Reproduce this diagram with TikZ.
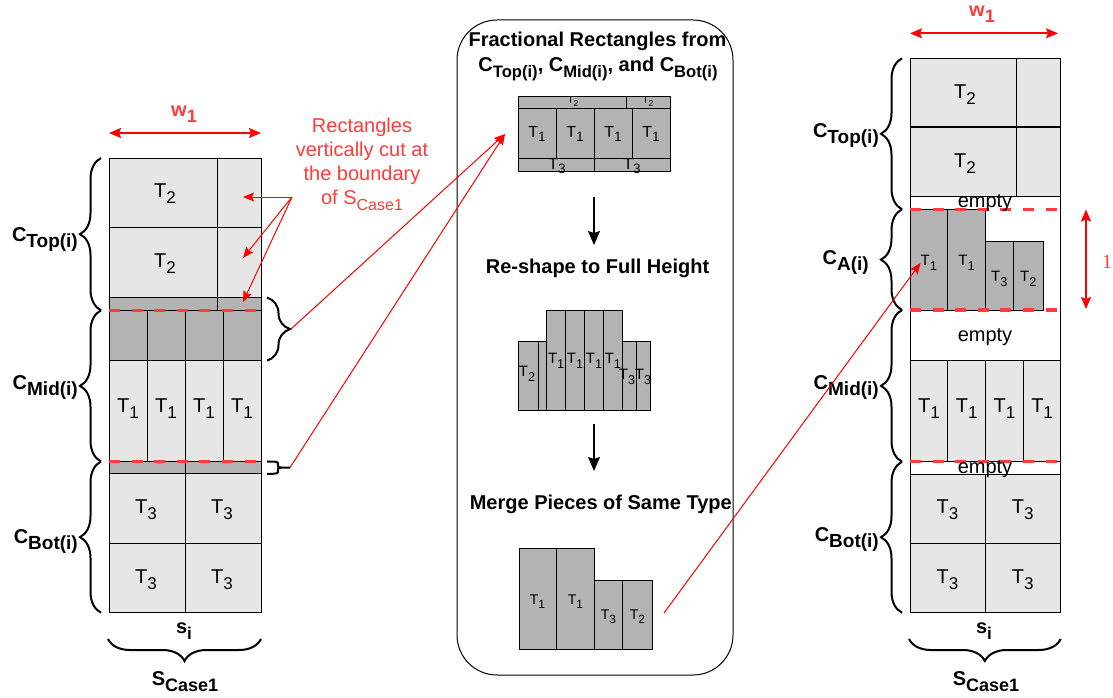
\documentclass[tikz,border=0pt]{standalone}
\usepackage{fontspec}
\setmainfont{Liberation Sans}
\newfontfamily\serifone{Liberation Serif}
\usepackage{tikz}
\usetikzlibrary{positioning}
\usetikzlibrary{arrows.meta,decorations.pathreplacing}
\definecolor{cutred}{HTML}{FF3B3B}
\definecolor{linered}{HTML}{FF0000}
\definecolor{cellgray}{HTML}{E6E6E6}
\definecolor{fracgray}{HTML}{B3B3B3}
\newcommand{\fsz}[1]{\fontsize{#1}{\fpeval{1.2*#1}}\selectfont}
\newcommand{\lowr}[2][0.85]{\raisebox{-0.3em}{\scalebox{#1}{#2}}}

\begin{document}
\begin{tikzpicture}[x=1pt,y=-1pt,
 every node/.style={inner sep=0pt,font=\fsz{20}},
 litecell/.style={draw=black,fill=cellgray,line width=0.9pt},
 darkcell/.style={draw=black,fill=fracgray,line width=0.9pt},
 cutline/.style={draw=cutred,line width=3.5pt,dash pattern=on 11pt off 11.6pt},
 brc/.style={decorate,decoration={brace,amplitude=#1},line width=2pt},
 redarr/.style={draw=linered,line width=1pt,-{Stealth[length=11pt,width=9pt,inset=2pt]}},
 dimarr/.style={draw=linered,line width=1.6pt,{Stealth[length=12pt,width=10pt,inset=2pt]}-{Stealth[length=12pt,width=10pt,inset=2pt]}},
 downarr/.style={draw=black,line width=1.5pt,-{Stealth[length=14pt,width=12pt,inset=2pt]}},
 clab/.style={font=\fsz{20}\bfseries,anchor=east},
 ttl/.style={font=\fsz{20}\bfseries},
 wlab/.style={font=\fsz{20}\bfseries,text=cutred}]
 \useasboundingbox (0,0) rectangle (1113,698);

 %left strip
 \foreach \y [count=\i] in {158,227.8}{
  \draw[litecell] (109,\y) rectangle (217,\y+69.7);
  \draw[litecell] (217,\y) rectangle (261,\y+69.7);
  \node (lt\i) at (165,\y+36) {T\lowr{2}};
 }
 \draw[darkcell] (109,297.5) rectangle (217,310.3);
 \draw[darkcell] (217,297.5) rectangle (261,310.3);
 \foreach \x [count=\i] in {109,147,185,223}{
  \draw[darkcell] (\x,310.3) rectangle +(38,50.4);
  \draw[litecell] (\x,360.7) rectangle +(38,100.8);
  \node (lm\i) at (\x+19,409) {T\lowr{1}};
 }
 \draw[darkcell] (109,461.5) rectangle (185,473.8);
 \draw[darkcell] (185,461.5) rectangle (261,473.8);
 \foreach \y [count=\j] in {473.8,543.3}
  \foreach \x [count=\i] in {109,185}{
   \draw[litecell] (\x,\y) rectangle +(76,69.4);
   \node (lb\j\i) at (\x+37,\y+36) {T\lowr{3}};
  }
 \draw[cutline] (109,310.3) -- (261,310.3);
 \draw[cutline] (109,461.5) -- (261,461.5);

 \draw[brc=21] (101,310.3) -- (101,158);
 \draw[brc=21] (101,461.5) -- (101,310.3);
 \draw[brc=21] (101,612.7) -- (101,461.5);
 \node[clab] (ctopl) at (78,239) {C\lowr[0.95]{Top(i)}};
 \node[clab] (cmidl) at (78,387) {C\lowr[0.95]{Mid(i)}};
 \node[clab] (cbotl) at (78,541) {C\lowr[0.95]{Bot(i)}};
 \draw[brc=23] (267,297.5) -- (267,360.7);
 \coordinate (tipa) at (291,329);
 \coordinate (tipb) at (290,467.6);
 \draw[line width=2pt] (267,461.5) .. controls (278,461.5) .. (278,465)
  .. controls (278,467.6) .. (tipb)
  (267,473.8) .. controls (278,473.8) .. (278,470.2)
  .. controls (278,467.6) .. (tipb);

 \node[font=\fsz{20}\bfseries] (sil) at (184,631) {s\lowr{i}};
 \draw[brc=22] (261,639) -- (108,639);
 \node[font=\fsz{20}\bfseries] (scasel) at (185,682) {S\lowr[0.9]{Case1}};

 \coordinate (wl1) at (109,133);
 \coordinate (wl2) at (261,133);
 \draw[dimarr] (wl1) -- (wl2);
 \node[wlab] (wlabl) at (184,114) {w\lowr[0.9]{1}};

 \node[text=cutred,align=center] (note) at (362,164) {Rectangles\\vertically cut at\\the boundary\\of S\lowr[0.8]{Case1}};
 \coordinate (notep) at (292,197);
 \coordinate (cut1) at (243,197);
 \coordinate (cut2) at (243,258);
 \coordinate (cut3) at (243,302);
 \foreach \c in {cut1,cut2,cut3}
  \draw[redarr] (notep) -- (\c);

 %middle panel
 \draw[line width=1pt,rounded corners=40pt] (457,20) rectangle (733,675);
 \node[ttl,anchor=base] (ttla) at (597.5,46.5) {Fractional Rectangles from};
 \node[ttl,anchor=base] (ttlb) at (598,72) {C\lowr[0.83]{Top(i)}, C\lowr[0.83]{Mid(i)}, and C\lowr[0.83]{Bot(i)}};

 \draw[darkcell] (518,96) rectangle (626,108.3);
 \draw[darkcell] (626,96) rectangle (670,108.3);
 \foreach \x [count=\i] in {518,556,594,632}{
  \draw[darkcell] (\x,108.3) rectangle +(38,50);
  \node[font=\fsz{16}] (fm\i) at (\x+19,134) {T\lowr{1}};
 }
 \draw[darkcell] (518,158.3) rectangle (594,171.7);
 \draw[darkcell] (594,158.3) rectangle (670,171.7);
 \node[font=\fsz{10}] (ft1) at (573,102) {T\lowr{2}};
 \node[font=\fsz{10}] (ft2) at (648,102) {T\lowr{2}};
 \node[font=\fsz{16}] (fb1) at (557,166) {T\lowr{3}};
 \node[font=\fsz{16}] (fb2) at (632,166) {T\lowr{3}};
 \coordinate (frac) at (505,134);
 \draw[redarr] (tipa) -- (frac);
 \draw[redarr] (tipb) -- (frac);

 \coordinate (da1) at (594,197);
 \coordinate (da2) at (594,245);
 \draw[downarr] (da1) -- (da2);
 \node[ttl] (reshape) at (597.5,268) {Re-shape to Full Height};

 \draw[darkcell] (518.3,341.7) rectangle (538.3,410.7);
 \draw[darkcell] (538.3,341.7) rectangle (546.7,410.7);
 \foreach \x [count=\i] in {546.7,565.6,584.5,603.4}{
  \draw[darkcell] (\x,310) rectangle +(18.9,100.7);
  \node[font=\fsz{15}] (rm\i) at (\x+9.5,361) {T\lowr{1}};
 }
 \draw[darkcell] (622.3,341.7) rectangle (636,410.7);
 \draw[darkcell] (636,341.7) rectangle (650,410.7);
 \node[font=\fsz{15}] (r2) at (527,374) {T\lowr{2}};
 \node[font=\fsz{15}] (r31) at (627,377) {T\lowr{3}};
 \node[font=\fsz{15}] (r32) at (643,377) {T\lowr{3}};

 \coordinate (db1) at (594,424);
 \coordinate (db2) at (594,471);
 \draw[downarr] (db1) -- (db2);
 \node[ttl] (merge) at (600.8,504) {Merge Pieces of Same Type};

 \draw[darkcell] (519,548.3) rectangle (556.7,649.3);
 \draw[darkcell] (556.7,548.3) rectangle (594.7,649.3);
 \draw[darkcell] (594.7,580) rectangle (622.3,649.3);
 \draw[darkcell] (622.3,580) rectangle (652.7,649.3);
 \node[font=\fsz{14}] (g1) at (537.5,602) {T\lowr{1}};
 \node[font=\fsz{14}] (g2) at (575.5,602) {T\lowr{1}};
 \node[font=\fsz{14}] (g3) at (608.5,617) {T\lowr{3}};
 \node[font=\fsz{14}] (g4) at (637.5,617) {T\lowr{2}};
 \coordinate (mergeout) at (664,613);

 %right strip
 \foreach \y [count=\i] in {58.3,127.7}{
  \draw[litecell] (910,\y) rectangle (1016.7,\y+68.3);
  \draw[litecell] (1016.7,\y) rectangle (1060.7,\y+68.3);
  \node (rt\i) at (965,\y+36) {T\lowr{2}};
 }
 \draw[darkcell] (910,209.3) rectangle (947.7,310);
 \draw[darkcell] (947.7,209.3) rectangle (985.3,310);
 \draw[darkcell] (985.3,241.7) rectangle (1013.3,310);
 \draw[darkcell] (1013.3,241.7) rectangle (1043.3,310);
 \node[font=\fsz{15}] (ra1) at (928.8,263) {T\lowr{1}};
 \node[font=\fsz{15}] (ra2) at (966.5,263) {T\lowr{1}};
 \node[font=\fsz{15}] (ra3) at (999.3,279) {T\lowr{3}};
 \node[font=\fsz{15}] (ra4) at (1028.3,279) {T\lowr{2}};
 \foreach \x [count=\i] in {910,947.7,985.4,1023.1}{
  \draw[litecell] (\x,360.7) rectangle +(37.7,101);
  \node (rm\i) at (\x+19,409) {T\lowr{1}};
 }
 \foreach \y [count=\j] in {474,543.3}
  \foreach \x [count=\i] in {910,985.3}{
   \draw[litecell] (\x,\y) rectangle +(75.4,69.4);
   \node (rb\j\i) at (\x+37.5,\y+36) {T\lowr{3}};
  }
 \draw[line width=0.9pt] (910,58.3) rectangle (1060.7,612.7);
 \draw[cutline] (910,209.3) -- (1060,209.3);
 \draw[cutline] (910,310) -- (1060,310);
 \draw[cutline] (910,461.7) -- (1060,461.7);
 \node[anchor=base] (emp1) at (985,207) {empty};
 \node[anchor=base] (emp2) at (985,341.7) {empty};
 \node[anchor=base] (emp3) at (985,473) {empty};

 \draw[brc=21] (902,209.3) -- (902,58.3);
 \draw[brc=21] (902,310) -- (902,209.3);
 \draw[brc=21] (902,461.7) -- (902,310);
 \draw[brc=21] (902,612.7) -- (902,461.7);
 \node[clab] (ctopr) at (879,135) {C\lowr[0.95]{Top(i)}};
 \node[clab] (car) at (869,262) {C\lowr[0.95]{A(i)}};
 \node[clab] (cmidr) at (879,387) {C\lowr[0.95]{Mid(i)}};
 \node[clab] (cbotr) at (879,539) {C\lowr[0.95]{Bot(i)}};

 \node[font=\fsz{20}\bfseries] (sir) at (984,631) {s\lowr{i}};
 \draw[brc=22] (1060.7,639) -- (909,639);
 \node[font=\fsz{20}\bfseries] (scaser) at (986,682) {S\lowr[0.9]{Case1}};

 \coordinate (wr1) at (910,33.3);
 \coordinate (wr2) at (1058,33.3);
 \draw[dimarr] (wr1) -- (wr2);
 \node[wlab] (wlabr) at (982,14) {w\lowr[0.9]{1}};

 \coordinate (ha1) at (1086,209.5);
 \coordinate (ha2) at (1086,309);
 \draw[dimarr] (ha1) -- (ha2);
 \node[text=cutred,font=\serifone\fsz{20}] (one) at (1107,262) {1};

 \draw[redarr] (mergeout) -- (ra1.west);
\end{tikzpicture}
\end{document}
